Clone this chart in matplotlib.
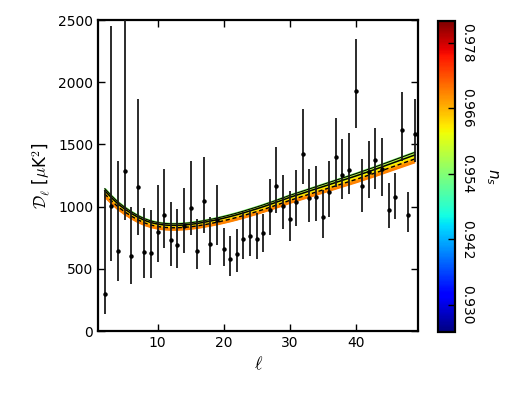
import numpy as np
import matplotlib
matplotlib.use("Agg")
import matplotlib.pyplot as plt
from matplotlib import cm, colors

# ---- data ----
ell = list(range(2, 50))
dl = [300, 1005, 646, 1284, 600, 1160, 637, 630, 796, 930, 729, 691, 844, 986, 646, 1042,
      702, 890, 657, 581, 619, 737, 764, 742, 785, 973, 1163, 1002, 903, 1034, 1423, 1066,
      1080, 919, 1115, 1401, 1254, 1297, 1927, 1163, 1281, 1372, 1302, 975, 1075, 1616, 932, 1581]
dl_hi = [1133, 2452, 1366, 2700, 999, 1862, 991, 973, 1174, 1305, 1034, 981, 1152, 1369, 900, 1399,
         919, 1174, 826, 764, 820, 957, 973, 946, 940, 1222, 1476, 1254, 1125, 1291, 1782, 1305,
         1326, 1133, 1369, 1712, 1543, 1592, 2347, 1383, 1527, 1634, 1549, 1187, 1270, 1919, 1115, 1862]
dl_lo = [137, 565, 402, 892, 375, 772, 423, 423, 552, 665, 525, 504, 630, 772, 496, 790,
         531, 691, 525, 442, 477, 576, 603, 579, 637, 772, 951, 822, 726, 847, 1182, 874,
         887, 750, 914, 1160, 1059, 1099, 1629, 959, 1066, 1139, 1085, 826, 900, 1369, 793, 1361]

# best-fit theory curve
theory = [1115, 1060, 1010, 970, 935, 905, 880, 862, 850, 843, 840, 840, 843, 848, 855, 864,
          874, 885, 897, 910, 924, 939, 955, 971, 988, 1006, 1024, 1043, 1062, 1079, 1096, 1113,
          1130, 1147, 1164, 1181, 1198, 1215, 1232, 1250, 1268, 1286, 1305, 1324, 1343, 1362, 1381, 1400]
# spectral index values of the sampled curves
ns_samples = [0.954, 0.955, 0.956, 0.957, 0.958, 0.959, 0.960, 0.961, 0.962,
              0.963, 0.964, 0.965, 0.966, 0.967, 0.968, 0.969]
ns_black_solid = [0.954, 0.958]
ns_black_dashed = [0.964]
ns_ref = 0.961
ns_min, ns_max = 0.925, 0.982
cbar_ticks = [0.930, 0.942, 0.954, 0.966, 0.978]

plt.rcParams['mathtext.fontset'] = 'cm'
plt.rcParams['font.family'] = ['DejaVu Sans']

fig = plt.figure(figsize=(5.17, 3.95), dpi=100)
ax = fig.add_axes([0.190, 0.162, 0.619, 0.787])
cax = fig.add_axes([0.847, 0.159, 0.033, 0.788])

ell_a = np.array(ell, dtype=float)
th = np.array(theory, dtype=float)
norm = colors.Normalize(vmin=ns_min, vmax=ns_max)
cmap = plt.get_cmap('jet')

def curve(ns):
    return th * (1.0 + 3.8 * (ns_ref - ns))

for ns in ns_samples:
    ax.plot(ell_a, curve(ns), color=cmap(norm(ns)), lw=1.6, zorder=2, solid_capstyle='butt')
for i, ns in enumerate(ns_black_solid):
    ax.plot(ell_a, curve(ns), color='k', lw=0.8 if i == 0 else 1.1, zorder=3)
for ns in ns_black_dashed:
    ax.plot(ell_a, curve(ns), color='k', lw=1.0, ls='--', dashes=(3, 2), zorder=3)

yerr = [np.array(dl) - np.array(dl_lo), np.array(dl_hi) - np.array(dl)]
ax.errorbar(ell, dl, yerr=yerr, fmt='o', color='k', ms=2.2, elinewidth=1.3,
            ecolor='#1a1a1a', capsize=0, zorder=4)

ax.set_xlim(1, 49.5)
ax.set_ylim(0, 2500)
ax.set_xticks([10, 20, 30, 40])
ax.set_yticks([0, 500, 1000, 1500, 2000, 2500])
ax.tick_params(direction='in', top=True, right=True, length=5, width=1.0, labelsize=10)
for s in ax.spines.values():
    s.set_linewidth(1.6)
ax.set_xlabel(r'$\ell$', fontsize=13)
ax.set_ylabel(r'$\mathcal{D}_\ell$ [$\mu$K$^2$]', fontsize=12)

sm = cm.ScalarMappable(norm=norm, cmap=cmap)
cb = fig.colorbar(sm, cax=cax, ticks=cbar_ticks)
cb.ax.tick_params(direction='in', length=5, width=1.0, labelsize=10)
cb.ax.set_yticklabels(['%.3f' % t for t in cbar_ticks], rotation=-90, va='center')
cb.outline.set_linewidth(1.6)
cb.set_label(r'$n_s$', rotation=-90, fontsize=11, math_fontfamily='dejavusans')
cb.ax.yaxis.set_label_coords(3.65, 0.5)

fig.savefig('out.png', dpi=100)
